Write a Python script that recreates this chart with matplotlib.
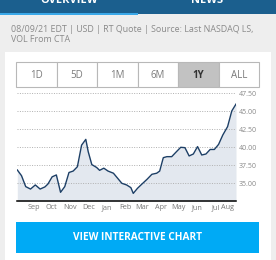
import matplotlib
matplotlib.use('Agg')
import matplotlib.pyplot as plt
from matplotlib.patches import Rectangle
import pandas as pd

plt.rcParams['font.family'] = ['Open Sans', 'DejaVu Sans']

## data
dates = ['2020-08-10', '2020-08-17', '2020-08-24', '2020-09-01', '2020-09-09',
         '2020-09-17', '2020-09-25', '2020-09-30', '2020-10-07', '2020-10-14',
         '2020-10-21', '2020-10-28', '2020-11-04', '2020-11-11', '2020-11-18',
         '2020-11-25', '2020-12-02', '2020-12-06', '2020-12-12', '2020-12-20',
         '2020-12-25', '2021-01-01', '2021-01-08', '2021-01-17', '2021-01-23',
         '2021-01-31', '2021-02-08', '2021-02-15', '2021-02-19', '2021-02-26',
         '2021-03-05', '2021-03-14', '2021-03-22', '2021-03-30', '2021-04-04',
         '2021-04-10', '2021-04-16', '2021-04-24', '2021-05-02', '2021-05-09',
         '2021-05-16', '2021-05-23', '2021-05-30', '2021-06-06', '2021-06-13',
         '2021-06-20', '2021-06-27', '2021-07-04', '2021-07-11', '2021-07-18',
         '2021-07-26', '2021-08-02', '2021-08-09']
prices = [36.85, 36.06, 34.54, 34.20, 34.77,
          34.20, 34.50, 34.90, 35.90, 36.16,
          33.75, 34.54, 36.50, 36.70, 37.30,
          40.30, 41.10, 39.40, 37.60, 37.20,
          36.80, 37.10, 36.70, 36.40, 35.80,
          35.00, 34.77, 34.40, 33.60, 34.30,
          34.86, 35.56, 36.25, 36.40, 36.70,
          38.56, 38.70, 38.70, 39.40, 40.00,
          39.95, 38.80, 39.07, 40.10, 38.93,
          39.07, 39.70, 39.70, 40.40, 41.70,
          42.87, 45.05, 46.00]
y_ticks = [35.0, 37.5, 40.0, 42.5, 45.0, 47.5]
month_labels = ['Sep', 'Oct', 'Nov', 'Dec', 'Jan', 'Feb', 'Mar', 'Apr',
                'May', 'Jun', 'Jul', 'Aug']
month_ticks = ['2020-09-06', '2020-10-06', '2020-11-06', '2020-12-06',
               '2021-01-06', '2021-02-06', '2021-03-06', '2021-04-06',
               '2021-05-06', '2021-06-06', '2021-07-06', '2021-08-06']
ranges = ['1D', '5D', '1M', '6M', '1Y', 'ALL']
selected = '1Y'
info_lines = ['08/09/21 EDT | USD | RT Quote | Source: Last NASDAQ LS,',
              'VOL From CTA']

W, H = 276, 260
fig = plt.figure(figsize=(W / 100, H / 100), dpi=100)
fig.patch.set_facecolor('#eeeeee')

## background layer in pixel coordinates
bg = fig.add_axes([0, 0, 1, 1])
bg.set_xlim(0, W)
bg.set_ylim(H, 0)
bg.axis('off')

# header bar (tab titles are cut off by the top edge, as in the screenshot)
bg.add_patch(Rectangle((0, 0), W, 14, color='#1b5f8e', lw=0))
bg.add_patch(Rectangle((0, 13), 138, 2, color='#3aa8e8', lw=0))
bg.text(69, 0.5, 'OVERVIEW', color='white', fontsize=8, fontweight='bold',
        ha='center', va='center')
bg.text(207, 0.5, 'NEWS', color='white', fontsize=8, fontweight='bold',
        ha='center', va='center')

# info text
for i, line in enumerate(info_lines):
    bg.text(11, 29 + i * 11, line, color='#8a8a8a', fontsize=6.4,
            ha='left', va='center')

# white card
bg.add_patch(Rectangle((5, 52), 266, 210, color='white', lw=0))

# range buttons
bx0, bx1, by0, by1 = 16, 259, 62, 87
bw = (bx1 - bx0) / len(ranges)
for i, r in enumerate(ranges):
    sel = (r == selected)
    bg.add_patch(Rectangle((bx0 + i * bw, by0), bw, by1 - by0,
                           facecolor='#c2c2c2' if sel else 'white',
                           edgecolor='#b8b8b8', lw=0.8))
    bg.text(bx0 + (i + 0.5) * bw, (by0 + by1) / 2 + 0.5, r,
            color='#333333' if sel else '#7a7a7a', fontsize=7,
            fontweight='bold' if sel else 'normal', ha='center', va='center')

# bottom button
bg.add_patch(Rectangle((16, 222), 243, 31, color='#00aaf5', lw=0))
bg.text(137.5, 238, 'VIEW INTERACTIVE CHART', color='white', fontsize=7.3,
        fontweight='bold', ha='center', va='center')

## chart
x = pd.to_datetime(dates)
left, right, top, bottom = 17.3, 236, 89, 201.3
ax = fig.add_axes([left / W, (H - bottom) / H, (right - left) / W,
                   (bottom - top) / H])
ax.set_facecolor('none')
ax.fill_between(x, prices, 32.5, color='#e3e8ef', lw=0)
ax.plot(x, prices, color='#1d3f66', lw=1.0)
ax.set_xlim(x[0], x[-1])
ax.set_ylim(32.5, 32.5 + (bottom - top) / 18 * 2.5)

ax.set_yticks(y_ticks)
ax.set_yticklabels(['%.2f' % v for v in y_ticks])
ax.yaxis.tick_right()
ax.tick_params(axis='y', length=0, pad=2, labelsize=5, labelcolor='#888888')
ax.grid(axis='y', color='#b0b0b0', linestyle=(0, (1, 1.5)), lw=0.7)

ax.set_xticks(pd.to_datetime(month_ticks))
ax.set_xticklabels(month_labels)
ax.tick_params(axis='x', length=0, pad=2, labelsize=5.2, labelcolor='#777777')
ax.get_xticklabels()[-1].set_horizontalalignment('right')

for s in ['left', 'right', 'top']:
    ax.spines[s].set_visible(False)
ax.spines['bottom'].set_color('black')
ax.spines['bottom'].set_linewidth(1.1)

plt.savefig('out.png', dpi=100, facecolor=fig.get_facecolor())
